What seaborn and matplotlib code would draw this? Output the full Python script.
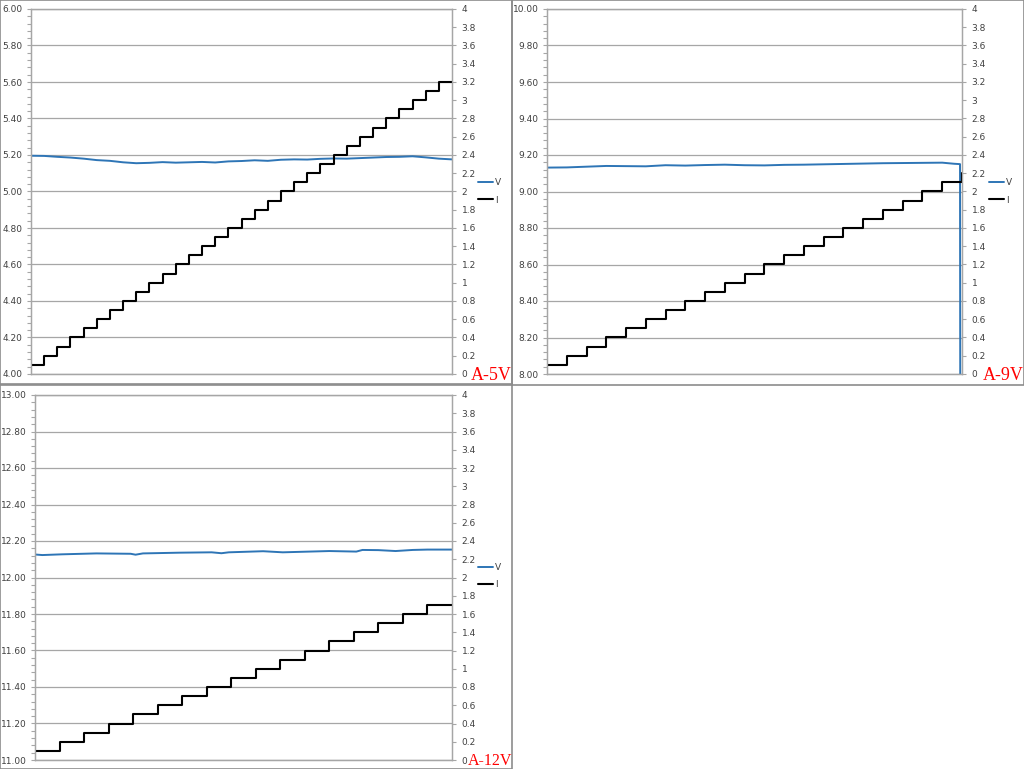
import matplotlib
matplotlib.use("Agg")
import matplotlib.pyplot as plt
import matplotlib.ticker as mticker
from matplotlib.patches import Rectangle
import seaborn as sns

# ---- A-5V ----
i5_levels = [0.1, 0.2, 0.3, 0.4, 0.5, 0.6, 0.7, 0.8, 0.9, 1.0, 1.1, 1.2, 1.3, 1.4, 1.5, 1.6,
             1.7, 1.8, 1.9, 2.0, 2.1, 2.2, 2.3, 2.4, 2.5, 2.6, 2.7, 2.8, 2.9, 3.0, 3.1, 3.2, 3.2]
v5_t = [0, 1, 2, 3, 4, 5, 6, 7, 8, 9, 10, 11, 12, 13, 14, 15, 16, 17, 18, 19, 20, 21, 22,
        23, 24, 25, 26, 27, 28, 29, 30, 31, 32]
v5 = [5.196, 5.195, 5.190, 5.186, 5.180, 5.172, 5.168, 5.160, 5.155, 5.157, 5.161, 5.158,
      5.160, 5.162, 5.159, 5.165, 5.167, 5.171, 5.168, 5.174, 5.176, 5.175, 5.179, 5.181,
      5.180, 5.183, 5.186, 5.189, 5.190, 5.193, 5.187, 5.180, 5.176]

# ---- A-9V ----
i9_t = [0, 1, 2, 3, 4, 5, 6, 7, 8, 9, 10, 11, 12, 13, 14, 15, 16, 17, 18, 19, 20, 20.95, 21]
i9_levels = [0.1, 0.2, 0.3, 0.4, 0.5, 0.6, 0.7, 0.8, 0.9, 1.0, 1.1, 1.2, 1.3, 1.4, 1.5,
             1.6, 1.7, 1.8, 1.9, 2.0, 2.1, 2.1, 2.2]
v9_t = [0, 1, 2, 3, 4, 5, 6, 7, 8, 9, 10, 11, 12, 13, 14, 15, 16, 17, 18, 19, 20, 20.6,
        20.9, 20.92]
v9 = [9.131, 9.132, 9.136, 9.140, 9.139, 9.138, 9.144, 9.142, 9.145, 9.147, 9.144, 9.143,
      9.146, 9.147, 9.149, 9.151, 9.153, 9.155, 9.156, 9.157, 9.158, 9.152, 9.150, 7.0]

# ---- A-12V ----
i12_levels = [0.1, 0.2, 0.3, 0.4, 0.5, 0.6, 0.7, 0.8, 0.9, 1.0, 1.1, 1.2, 1.3, 1.4, 1.5,
              1.6, 1.7, 1.7]
v12_t = [0, 0.3, 1.1, 2.5, 3.9, 4.1, 4.4, 5.9, 7.2, 7.6, 7.9, 9.3, 10.1, 12, 13.1, 13.35,
         14.0, 14.7, 15.4, 16, 17]
v12 = [12.126, 12.123, 12.127, 12.132, 12.130, 12.125, 12.132, 12.136, 12.138, 12.133,
       12.138, 12.144, 12.138, 12.145, 12.142, 12.151, 12.150, 12.145, 12.151, 12.153, 12.153]

panels = [
    dict(vt=v5_t, v=v5, it=list(range(len(i5_levels))), i=i5_levels, ylim=(4, 6),
         rect=[31 / 1024, 1 - 374 / 769, 421 / 1024, 365 / 769], xmax=32,
         leg=(0.459, 0.751), tag="A-5V", tagpos=(0.5, 0.5005), tagsize=13),
    dict(vt=v9_t, v=v9, it=i9_t, i=i9_levels, ylim=(8, 10),
         rect=[547 / 1024, 1 - 374 / 769, 415 / 1024, 365 / 769], xmax=21,
         leg=(0.958, 0.751), tag="A-9V", tagpos=(0.9995, 0.5005), tagsize=13),
    dict(vt=v12_t, v=v12, it=list(range(len(i12_levels))), i=i12_levels, ylim=(11, 13),
         rect=[35 / 1024, 1 - 760 / 769, 417 / 1024, 365 / 769], xmax=17,
         leg=(0.459, 0.251), tag="A-12V", tagpos=(0.5005, 0.0005), tagsize=11.5),
]

sns.set_style("white")
plt.rcParams["font.family"] = ["DejaVu Sans"]

fig = plt.figure(figsize=(10.24, 7.69), dpi=100)

grid_c = "#a6a6a6"
txt_c = "#404040"
blue = "#2e75b6"

for rx, ry, rw, rh in [(0, 384, 512, 385), (512, 384, 512, 385), (0, 0, 512, 385)]:
    fig.patches.append(Rectangle((rx / 1024, ry / 769), rw / 1024, rh / 769,
                                 transform=fig.transFigure, fill=False,
                                 edgecolor="#8c8c8c", lw=1.2, zorder=0))

for p in panels:
    ax = fig.add_axes(p["rect"])
    ax2 = ax.twinx()
    sns.lineplot(x=p["vt"], y=p["v"], ax=ax, color=blue, lw=1.4, estimator=None,
                 sort=False, label="V", legend=False)
    sns.lineplot(x=p["it"], y=p["i"], ax=ax2, color="black", lw=1.5, estimator=None,
                 sort=False, drawstyle="steps-post", label="I", legend=False)

    ax.set_xlim(0, p["xmax"])
    ax.set_ylim(*p["ylim"])
    ax2.set_ylim(0, 4)
    ax.yaxis.set_major_locator(mticker.MultipleLocator(0.2))
    ax.yaxis.set_minor_locator(mticker.MultipleLocator(0.04))
    ax.yaxis.set_major_formatter(mticker.FormatStrFormatter("%.2f"))
    ax2.yaxis.set_major_locator(mticker.MultipleLocator(0.2))
    ax2.yaxis.set_major_formatter(mticker.FuncFormatter(lambda v, _: f"{v:g}"))
    ax.set_xticks([])
    ax.grid(axis="y", color=grid_c, lw=0.9)
    ax.set_axisbelow(True)
    ax.set_xlabel("")
    ax.set_ylabel("")
    ax2.set_ylabel("")

    for a in (ax, ax2):
        for s in a.spines.values():
            s.set_color(grid_c)
            s.set_linewidth(0.9)
    ax.tick_params(axis="y", which="both", direction="out", length=3, width=0.8,
                   color=grid_c, labelsize=6.5, labelcolor=txt_c, pad=3, left=True)
    ax2.tick_params(axis="y", which="major", direction="out", length=3, width=0.8,
                    color=grid_c, labelsize=6.5, labelcolor=txt_c, pad=4, right=True)

    handles = ax.get_lines()[:1] + ax2.get_lines()[:1]
    fig.legend(handles, ["V", "I"], loc="center left", bbox_to_anchor=p["leg"],
               bbox_transform=fig.transFigure, frameon=False, fontsize=6.5,
               handlelength=1.6, handletextpad=0.3, labelspacing=0.9, labelcolor=txt_c)

    fig.text(p["tagpos"][0], p["tagpos"][1], p["tag"], ha="right", va="bottom",
             color="red", fontsize=p["tagsize"], family=["Liberation Serif", "DejaVu Serif"])

fig.savefig("out.png", dpi=100)
